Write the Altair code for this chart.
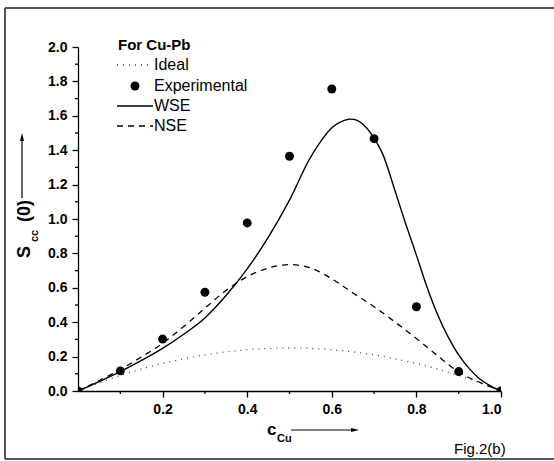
import altair as alt
import pandas as pd

# ---------------- data ----------------
ideal_c = [0, 0.05, 0.1, 0.15, 0.2, 0.25, 0.3, 0.35, 0.4, 0.45, 0.5,
           0.55, 0.6, 0.65, 0.7, 0.75, 0.8, 0.85, 0.9, 0.95, 1.0]
ideal_s = [0, 0.0475, 0.09, 0.1275, 0.16, 0.1875, 0.21, 0.2275, 0.24, 0.2475, 0.25,
           0.2475, 0.24, 0.2275, 0.21, 0.1875, 0.16, 0.1275, 0.09, 0.0475, 0]

exp_c = [0, 0.1, 0.2, 0.3, 0.4, 0.5, 0.6, 0.7, 0.8, 0.9, 1.0]
exp_s = [0, 0.117, 0.302, 0.574, 0.977, 1.365, 1.756, 1.467, 0.49, 0.113, 0]

wse_c = [0, 0.05, 0.1, 0.15, 0.2, 0.25, 0.3, 0.35, 0.4, 0.45, 0.5, 0.55, 0.6, 0.62,
         0.64, 0.66, 0.68, 0.7, 0.72, 0.75, 0.775, 0.8, 0.825, 0.85, 0.875, 0.9,
         0.925, 0.95, 0.975, 1.0]
wse_s = [0, 0.055, 0.113, 0.178, 0.248, 0.33, 0.425, 0.555, 0.71, 0.895, 1.11, 1.36, 1.53, 1.563,
         1.58, 1.573, 1.535, 1.47, 1.38, 1.16, 0.97, 0.79, 0.605, 0.445, 0.315, 0.21,
         0.13, 0.07, 0.03, 0]

nse_c = [0, 0.05, 0.1, 0.15, 0.2, 0.25, 0.3, 0.35, 0.4, 0.45, 0.5,
         0.55, 0.6, 0.65, 0.7, 0.75, 0.8, 0.85, 0.9, 0.95, 1.0]
nse_s = [0, 0.06, 0.125, 0.198, 0.277, 0.375, 0.481, 0.585, 0.665, 0.715, 0.735,
         0.715, 0.652, 0.57, 0.49, 0.40, 0.305, 0.205, 0.11, 0.05, 0]

x_major = [0.2, 0.4, 0.6, 0.8, 1.0]
x_minor = [0.1, 0.3, 0.5, 0.7, 0.9]
y_major = [0, 0.2, 0.4, 0.6, 0.8, 1.0, 1.2, 1.4, 1.6, 1.8, 2.0]
y_minor = [0.1, 0.3, 0.5, 0.7, 0.9, 1.1, 1.3, 1.5, 1.7, 1.9]

legend_title = "For Cu-Pb"
legend_labels = ["Ideal", "Experimental", "WSE", "NSE"]

# ---------------- layout ----------------
W, H = 423, 344
OX, OY = 78, 47
FONT = "Liberation Sans"


def px(x):
    return x - OX


def py(y):
    return y - OY


xs = alt.Scale(domain=[0, 1], nice=False, zero=False)
ys = alt.Scale(domain=[0, 2], nice=False, zero=False)

x_axis = alt.Axis(values=x_major, format=".1f", title=None, grid=False, tickSize=6,
                  tickWidth=1.3, domainWidth=1.3, domainColor="black", tickColor="black",
                  labelColor="black", labelFont=FONT, labelFontSize=14,
                  labelFontWeight="bold", labelPadding=5)
y_axis = alt.Axis(values=y_major, format=".1f", title=None, grid=False, tickSize=6,
                  tickWidth=1.3, domainWidth=1.3, domainColor="black", tickColor="black",
                  labelColor="black", labelFont=FONT, labelFontSize=14,
                  labelFontWeight="bold", labelPadding=5)


def X():
    return alt.X("c:Q", scale=xs, axis=x_axis)


def Y():
    return alt.Y("s:Q", scale=ys, axis=y_axis)


one = pd.DataFrame({"k": [0]})

ideal = alt.Chart(pd.DataFrame({"c": ideal_c, "s": ideal_s})).mark_line(
    color="#444", strokeWidth=1.3, strokeDash=[1, 5], interpolate="catmull-rom"
).encode(x=X(), y=Y())

nse = alt.Chart(pd.DataFrame({"c": nse_c, "s": nse_s})).mark_line(
    color="black", strokeWidth=1.3, strokeDash=[6, 5], interpolate="catmull-rom"
).encode(x=X(), y=Y())

wse = alt.Chart(pd.DataFrame({"c": wse_c, "s": wse_s})).mark_line(
    color="black", strokeWidth=1.4, interpolate="catmull-rom"
).encode(x=X(), y=Y())

exp = alt.Chart(pd.DataFrame({"c": exp_c, "s": exp_s})).mark_circle(
    color="black", opacity=1, size=80, clip=True
).encode(x=X(), y=Y())

xminor = alt.Chart(pd.DataFrame({"c": x_minor})).mark_rule(
    color="black", strokeWidth=1.3
).encode(x=X(), y=alt.value(H), y2=alt.value(H + 3))

yminor = alt.Chart(pd.DataFrame({"s": y_minor})).mark_rule(
    color="black", strokeWidth=1.3
).encode(y=Y(), x=alt.value(-3), x2=alt.value(0))


def hrule(x1, x2, y, color="black", width=1.0, dash=None):
    kw = dict(color=color, strokeWidth=width)
    if dash is not None:
        kw["strokeDash"] = dash
    return alt.Chart(one).mark_rule(**kw).encode(
        x=alt.value(px(x1)), x2=alt.value(px(x2)), y=alt.value(py(y)))


def vrule(x, y1, y2, color="black", width=1.0):
    return alt.Chart(one).mark_rule(color=color, strokeWidth=width).encode(
        x=alt.value(px(x)), y=alt.value(py(y1)), y2=alt.value(py(y2)))


def text(t, x, y, size, weight="normal", angle=0, baseline="middle", align="left"):
    kw = dict(text=t, font=FONT, fontSize=size, fontWeight=weight, color="black",
              align=align, baseline=baseline)
    if angle:
        kw["angle"] = angle
    return alt.Chart(one).mark_text(**kw).encode(x=alt.value(px(x)), y=alt.value(py(y)))


def head(shape, x, y, size):
    return alt.Chart(one).mark_point(shape=shape, filled=True, color="black", opacity=1,
                                     size=size, strokeWidth=0).encode(
        x=alt.value(px(x)), y=alt.value(py(y)))


# frame
frame = [
    vrule(5, 8, 459, color="#555", width=2),
    hrule(5, 600, 8, color="#555", width=2),
    hrule(5, 600, 459, color="#555", width=2),
]

# legend
legend = [
    text(legend_title, 118, 45, 15, weight="bold"),
    hrule(117, 153, 65, color="#444", width=1.3, dash=[1, 5]),
    text(legend_labels[0], 154, 65, 16),
    alt.Chart(one).mark_circle(color="black", opacity=1, size=80).encode(
        x=alt.value(px(135)), y=alt.value(py(86))),
    text(legend_labels[1], 154, 86, 16),
    hrule(117, 153, 106, width=1.4),
    text(legend_labels[2], 154, 106, 16),
    hrule(117, 153, 126, width=1.3, dash=[6, 5]),
    text(legend_labels[3], 154, 126, 16),
]

# y-axis title with arrow
ytitle = [
    text("S", 30, 258, 18, weight="bold", angle=270, baseline="alphabetic"),
    text("cc", 38, 242, 11, weight="bold", angle=270, baseline="alphabetic"),
    text("(0)", 30, 222, 18, weight="bold", angle=270, baseline="alphabetic"),
    vrule(22, 198, 140, width=1.2),
    head("M-0.5,1 L0.5,1 L0,-1 Z", 22, 137, 64),
]

# x-axis title with arrow
xtitle = [
    text("c", 267, 435, 17, weight="bold", baseline="alphabetic"),
    text("Cu", 277, 442, 11, weight="bold", baseline="alphabetic"),
    hrule(291, 352, 430, width=1.2),
    head("M-1,-0.5 L-1,0.5 L1,0 Z", 355, 430, 64),
]

fig = [text("Fig.2(b)", 454, 454, 15, baseline="alphabetic")]

chart = alt.layer(
    ideal, nse, wse, exp, xminor, yminor, *frame, *legend, *ytitle, *xtitle, *fig
).properties(
    width=W, height=H,
    padding={"left": OX, "top": OY, "right": 554 - OX - W, "bottom": 461 - OY - H},
    autosize=alt.AutoSizeParams(type="none"),
    background="white",
).configure_view(stroke=None)

chart.save("out.html", embed_options={"renderer": "svg", "actions": False})
